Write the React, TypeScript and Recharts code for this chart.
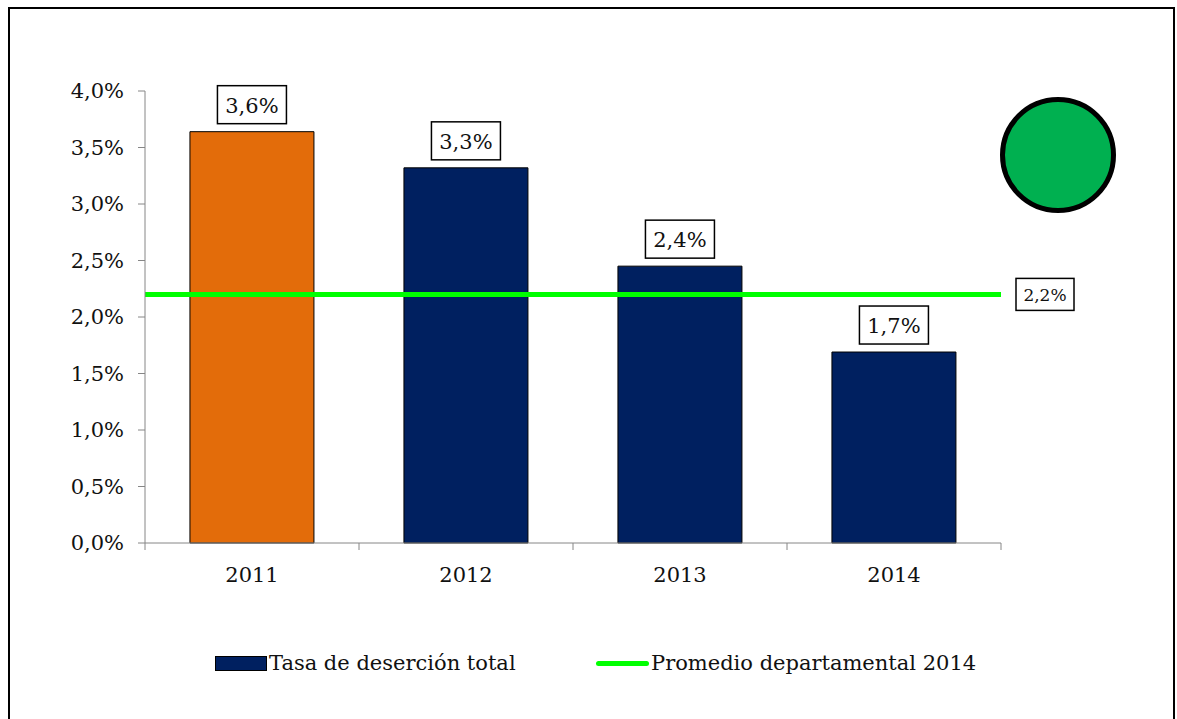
import { Bar, Cell, ComposedChart, LabelList, Legend, ReferenceLine, XAxis, YAxis } from "recharts";

const years = ["2011", "2012", "2013", "2014"];
const rates = [3.64, 3.32, 2.45, 1.69];
const rateLabels = ["3,6%", "3,3%", "2,4%", "1,7%"];
const barColors = ["#E36C0A", "#002060", "#002060", "#002060"];
const average = 2.2;
const averageLabel = "2,2%";
const yTicks = [0, 0.5, 1, 1.5, 2, 2.5, 3, 3.5, 4];
const seriesNames = ["Tasa de deserción total", "Promedio departamental 2014"];

const W = 1177;
const H = 719;
const FONT = "'DejaVu Serif'";
const AXIS = "#868686";
const NAVY = "#002060";
const LIME = "#00FF00";
const margin = { top: 91, right: 176, bottom: 136, left: 65 };
const BAND = (W - margin.left - 80 - margin.right) / years.length;

const data = years.map((year, i) => ({ year, rate: rates[i], label: rateLabels[i] }));

const fmt = (v: number) => v.toFixed(1).replace(".", ",") + "%";

function YearTick({ x, y, payload, index }: any) {
  const half = BAND / 2;
  return (
    <g>
      <line x1={x - half} x2={x - half} y1={y} y2={y + 7} stroke={AXIS} />
      {index === years.length - 1 && <line x1={x + half} x2={x + half} y1={y} y2={y + 7} stroke={AXIS} />}
      <text x={x} y={y + 39} textAnchor="middle" fontSize={21} fontFamily={FONT} fill="#111">
        {payload.value}
      </text>
    </g>
  );
}

function BoxLabel({ x, y, width, value }: any) {
  const cx = x + width / 2;
  const bw = 69;
  const bh = 38;
  const top = y - 8 - bh;
  return (
    <g>
      <rect x={cx - bw / 2} y={top} width={bw} height={bh} fill="#fff" stroke="#000" strokeWidth={1.5} />
      <text x={cx} y={top + bh / 2 + 8} textAnchor="middle" fontSize={21} fontFamily={FONT} fill="#111">
        {value}
      </text>
    </g>
  );
}

function AverageLabel({ viewBox }: any) {
  const left = viewBox.x + viewBox.width + 15;
  return (
    <g>
      <rect x={left} y={viewBox.y - 16} width={58} height={32} fill="#fff" stroke="#000" strokeWidth={1.5} />
      <text x={left + 29} y={viewBox.y + 7} textAnchor="middle" fontSize={17} fontFamily={FONT} fill="#111">
        {averageLabel}
      </text>
    </g>
  );
}

function LegendContent() {
  return (
    <div style={{ position: "relative", height: 30, fontFamily: FONT, fontSize: 21, color: "#111" }}>
      <div style={{ position: "absolute", left: 215, top: 0, display: "flex", alignItems: "center", height: 30 }}>
        <span style={{ width: 50, height: 13, background: NAVY, border: "1px solid #000", marginRight: 2 }} />
        <span>{seriesNames[0]}</span>
      </div>
      <div style={{ position: "absolute", left: 596, top: 0, display: "flex", alignItems: "center", height: 30 }}>
        <span style={{ width: 53, height: 5, background: LIME, borderRadius: 3, marginRight: 2 }} />
        <span>{seriesNames[1]}</span>
      </div>
    </div>
  );
}

export default function App() {
  return (
    <div style={{ position: "absolute", left: 0, top: 0, width: W, height: H, background: "#fff", overflow: "hidden" }}>
      <div
        style={{
          position: "absolute",
          left: 8,
          top: 7,
          width: 1163,
          height: 730,
          borderTop: "2px solid #000",
          borderLeft: "2px solid #000",
          borderRight: "2px solid #000",
        }}
      />
      <ComposedChart width={W} height={H} data={data} margin={margin} barCategoryGap="21%">
        <XAxis
          dataKey="year"
          height={40}
          tickSize={0}
          tickMargin={0}
          tickLine={false}
          axisLine={{ stroke: AXIS }}
          tick={<YearTick />}
          interval={0}
        />
        <YAxis
          width={80}
          domain={[0, 4]}
          ticks={yTicks}
          tickFormatter={fmt}
          tickSize={7}
          tickMargin={14}
          axisLine={{ stroke: AXIS }}
          tickLine={{ stroke: AXIS }}
          tick={{ fontSize: 21, fontFamily: FONT, fill: "#111" }}
        />
        <Bar dataKey="rate" name={seriesNames[0]} stroke="#000" strokeWidth={1} isAnimationActive={false}>
          {data.map((d, i) => (
            <Cell key={d.year} fill={barColors[i]} />
          ))}
          <LabelList dataKey="label" content={<BoxLabel />} />
        </Bar>
        <ReferenceLine y={average} stroke={LIME} strokeWidth={5} label={<AverageLabel />} />
        <Legend
          layout="horizontal"
          verticalAlign="middle"
          align="center"
          content={<LegendContent />}
          wrapperStyle={{ position: "absolute", left: 0, top: 648, width: W, height: 30 }}
        />
      </ComposedChart>
      <div
        style={{
          position: "absolute",
          left: 1000,
          top: 97,
          width: 106,
          height: 106,
          borderRadius: "50%",
          background: "#00B050",
          border: "5px solid #000",
        }}
      />
    </div>
  );
}
